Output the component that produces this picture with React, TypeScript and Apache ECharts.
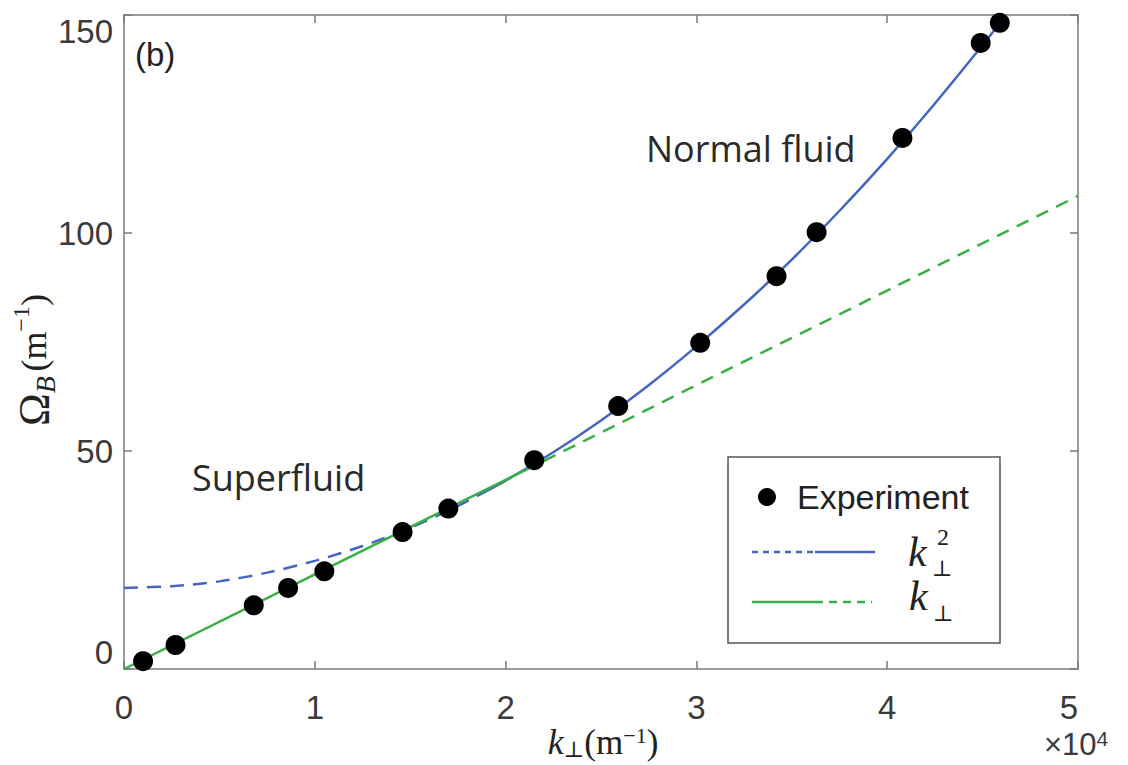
import React, { useEffect, useRef } from "react";
import * as echarts from "echarts";

// Experimental points (k in units of 1e4 m^-1, Omega_B in m^-1)
const kExp = [0.10, 0.27, 0.68, 0.86, 1.05, 1.46, 1.70, 2.15, 2.59, 3.02, 3.42, 3.63, 4.08, 4.49, 4.59];
const omegaExp = [1.8, 5.5, 14.6, 18.6, 22.4, 31.4, 36.8, 47.9, 60.3, 74.8, 90.1, 100.2, 121.8, 143.6, 148.2];

// k^2 fit curve
const kQuad = [0, 0.25, 0.5, 0.75, 1, 1.25, 1.5, 1.75, 1.9, 2, 2.25, 2.5, 2.75, 3, 3.25, 3.5, 3.75, 4, 4.25, 4.5, 4.62];
const omegaQuad = [18.6, 19.0, 20.1, 22.1, 24.8, 28.2, 32.4, 37.4, 40.8, 43.2, 49.7, 57.0, 65.1, 74.0, 83.6, 93.9, 105.1, 117.0, 129.7, 143.1, 149.9];
const quadSplit = 8; // dashed up to this index, solid after

// k linear fit curve
const kLin = [0, 1, 2, 2.2, 3, 4, 5];
const omegaLin = [0, 21.7, 43.4, 47.7, 65.1, 86.8, 108.5];
const linSplit = 3; // solid up to this index, dashed after

const xTicks = [0, 1, 2, 3, 4, 5];
const yTicks = [0, 50, 100, 150];

const BLUE = "#4466c0";
const GREEN = "#3aaf45";
const AXIS = "#7a7a7a";
const LABEL = "#3a3a3a";
const SANS = "'Liberation Sans', Arial, Helvetica, sans-serif";
const SERIF = "'Liberation Serif', 'DejaVu Serif', serif";
const OPEN = "'Open Sans', 'Noto Sans', sans-serif";

const pairs = (xs: number[], ys: number[], from: number, to: number) =>
  xs.slice(from, to).map((x, i) => [x, ys[from + i]]);

export default function App() {
  const ref = useRef<HTMLDivElement>(null);
  useEffect(() => {
    if (!ref.current) return;
    const chart = echarts.init(ref.current, null, { renderer: "svg" });
    const axisCommon = {
      type: "value" as const,
      axisLine: { show: true, onZero: false, lineStyle: { color: AXIS, width: 1.5 } },
      axisTick: { show: true, inside: true, length: 8, lineStyle: { color: AXIS, width: 1.5 } },
      splitLine: { show: false },
    };
    chart.setOption({
      animation: false,
      backgroundColor: "#ffffff",
      grid: { left: 124, right: 50, top: 15, bottom: 96, containLabel: false, outerBoundsMode: "none" },
      xAxis: [
        {
          ...axisCommon,
          min: xTicks[0],
          max: xTicks[xTicks.length - 1],
          interval: 1,
          position: "bottom",
          axisLabel: {
            fontSize: 33,
            fontFamily: SANS,
            color: LABEL,
            margin: 22,
            alignMaxLabel: "right",
          },
        },
        {
          ...axisCommon,
          min: xTicks[0],
          max: xTicks[xTicks.length - 1],
          interval: 1,
          position: "top",
          axisLabel: { show: false },
        },
      ],
      yAxis: [
        {
          ...axisCommon,
          min: yTicks[0],
          max: yTicks[yTicks.length - 1],
          interval: 50,
          position: "left",
          axisLabel: {
            fontSize: 33,
            fontFamily: SANS,
            color: LABEL,
            margin: 11,
            verticalAlignMinLabel: "bottom",
            verticalAlignMaxLabel: "top",
          },
        },
        {
          ...axisCommon,
          min: yTicks[0],
          max: yTicks[yTicks.length - 1],
          interval: 50,
          position: "right",
          axisLabel: { show: false },
        },
      ],
      series: [
        {
          type: "line",
          data: pairs(kQuad, omegaQuad, 0, quadSplit + 1),
          smooth: 0.3,
          showSymbol: false,
          lineStyle: { color: BLUE, width: 2.5, type: [14, 9] },
          z: 2,
        },
        {
          type: "line",
          data: pairs(kQuad, omegaQuad, quadSplit, kQuad.length),
          smooth: 0.3,
          showSymbol: false,
          lineStyle: { color: BLUE, width: 2.5 },
          z: 2,
        },
        {
          type: "line",
          data: pairs(kLin, omegaLin, 0, linSplit + 1),
          showSymbol: false,
          lineStyle: { color: GREEN, width: 2.5 },
          z: 3,
        },
        {
          type: "line",
          data: pairs(kLin, omegaLin, linSplit, kLin.length),
          showSymbol: false,
          lineStyle: { color: GREEN, width: 2.5, type: [13, 9] },
          z: 3,
        },
        {
          type: "scatter",
          name: "Experiment",
          data: kExp.map((k, i) => [k, omegaExp[i]]),
          symbol: "circle",
          symbolSize: 20,
          itemStyle: { color: "#000000", opacity: 1 },
          z: 5,
        },
      ],
      graphic: [
        {
          type: "text",
          left: 135,
          top: 38,
          style: { text: "(b)", fontSize: 33, fontFamily: SANS, fill: "#222" },
        },
        {
          type: "text",
          x: 192,
          y: 477,
          style: { text: "Superfluid", fontSize: 36, fontFamily: OPEN, fill: "#2a2a2a", verticalAlign: "middle", align: "left" },
        },
        {
          type: "text",
          x: 646,
          y: 148,
          style: { text: "Normal fluid", fontSize: 36, fontFamily: OPEN, fill: "#2a2a2a", verticalAlign: "middle", align: "left" },
        },
        {
          type: "text",
          x: 603,
          y: 742,
          style: {
            text: "{k|k}{sub|⊥}{p|(m}{sup|−1}{p|)}",
            align: "center",
            verticalAlign: "middle",
            fill: "#222",
            rich: {
              k: { fontSize: 36, fontStyle: "italic", fontFamily: SERIF, lineHeight: 36, verticalAlign: "middle" },
              sub: { fontSize: 22, fontFamily: SERIF, verticalAlign: "bottom", lineHeight: 22 },
              p: { fontSize: 35, fontFamily: SERIF, lineHeight: 36, verticalAlign: "middle" },
              sup: { fontSize: 22, fontFamily: SERIF, verticalAlign: "top", lineHeight: 22 },
            },
          },
        },
        {
          type: "text",
          x: 34,
          y: 360,
          rotation: Math.PI / 2,
          style: {
            text: "{o|Ω}{s|B}{g| }{p|(m}{sup|−1}{p|)}",
            align: "center",
            verticalAlign: "middle",
            fill: "#222",
            rich: {
              o: { fontSize: 44, fontFamily: SERIF, lineHeight: 50, verticalAlign: "middle" },
              s: { fontSize: 28, fontStyle: "italic", fontFamily: SERIF, lineHeight: 28, verticalAlign: "bottom" },
              g: { fontSize: 18, fontFamily: SERIF, lineHeight: 50 },
              p: { fontSize: 36, fontFamily: SERIF, lineHeight: 50, verticalAlign: "middle" },
              sup: { fontSize: 24, fontFamily: SERIF, lineHeight: 24, verticalAlign: "top" },
            },
          },
        },
        {
          type: "text",
          x: 1044,
          y: 744,
          style: {
            text: "{t|×10}{sup|4}",
            verticalAlign: "middle",
            align: "left",
            fill: "#3a3a3a",
            rich: {
              t: { fontSize: 31, fontFamily: SANS, lineHeight: 32, verticalAlign: "bottom" },
              sup: { fontSize: 21, fontFamily: SANS, lineHeight: 21, verticalAlign: "top" },
            },
          },
        },
        // Legend
        {
          type: "rect",
          shape: { x: 728, y: 457, width: 272, height: 186 },
          style: { fill: "#ffffff", stroke: "#555555", lineWidth: 1.5 },
          z: 10,
        },
        {
          type: "circle",
          shape: { cx: 767, cy: 497, r: 9 },
          style: { fill: "#000000" },
          z: 11,
        },
        {
          type: "text",
          x: 797,
          y: 497,
          style: { text: "Experiment", fontSize: 34, fontFamily: SANS, fill: "#222", verticalAlign: "middle" },
          z: 11,
        },
        {
          type: "line",
          shape: { x1: 752, y1: 552, x2: 815, y2: 552 },
          style: { stroke: BLUE, lineWidth: 2.5, lineDash: [6, 5] },
          z: 11,
        },
        {
          type: "line",
          shape: { x1: 815, y1: 552, x2: 875, y2: 552 },
          style: { stroke: BLUE, lineWidth: 2.5 },
          z: 11,
        },
        {
          type: "line",
          shape: { x1: 752, y1: 602, x2: 815, y2: 602 },
          style: { stroke: GREEN, lineWidth: 2.5 },
          z: 11,
        },
        {
          type: "line",
          shape: { x1: 815, y1: 602, x2: 872, y2: 602 },
          style: { stroke: GREEN, lineWidth: 2.5, lineDash: [8, 6] },
          z: 11,
        },
        {
          type: "text",
          x: 908,
          y: 552,
          style: { text: "k", fontSize: 42, fontStyle: "italic", fontFamily: SERIF, fill: "#222", verticalAlign: "middle" },
          z: 11,
        },
        {
          type: "text",
          x: 937,
          y: 537,
          style: { text: "2", fontSize: 24, fontFamily: SERIF, fill: "#222", verticalAlign: "middle" },
          z: 11,
        },
        {
          type: "text",
          x: 932,
          y: 568,
          style: { text: "⊥", fontSize: 22, fontFamily: SERIF, fill: "#222", verticalAlign: "middle" },
          z: 11,
        },
        {
          type: "text",
          x: 909,
          y: 596,
          style: { text: "k", fontSize: 42, fontStyle: "italic", fontFamily: SERIF, fill: "#222", verticalAlign: "middle" },
          z: 11,
        },
        {
          type: "text",
          x: 933,
          y: 613,
          style: { text: "⊥", fontSize: 22, fontFamily: SERIF, fill: "#222", verticalAlign: "middle" },
          z: 11,
        },
      ],
    });
    return () => chart.dispose();
  }, []);
  return (
    <div
      ref={ref}
      style={{ position: "absolute", left: 0, top: 0, width: 1128, height: 765, background: "#fff" }}
    />
  );
}
